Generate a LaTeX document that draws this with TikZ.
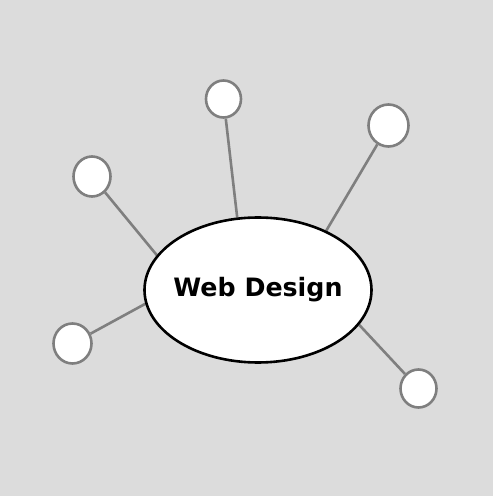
\documentclass[tikz,border=0pt]{standalone}
\usepackage{fontspec}
\setmainfont{DejaVu Sans}
\usetikzlibrary{shapes.geometric,backgrounds}
\definecolor{bg}{HTML}{DCDCDC}
\definecolor{linegray}{HTML}{7F7F7F}
\tikzset{
  leaf/.style={ellipse, draw=linegray, line width=2.6pt, fill=white, inner sep=0pt},
  hub/.style={ellipse, draw=black, line width=2.6pt, fill=white, inner xsep=-15pt, inner ysep=0pt,
    minimum width=227pt, minimum height=145pt, font=\fontsize{25.3}{30}\selectfont\bfseries},
  link/.style={draw=linegray, line width=2.6pt}
}
\begin{document}
\begin{tikzpicture}[x=1pt,y=1pt]
\useasboundingbox (0,0) rectangle (493,496);
\node[hub] (e) at (258,206) {Web Design};
\node[leaf, minimum width=35pt, minimum height=37pt] (c1) at (223.5,397) {};
\node[leaf, minimum width=40pt, minimum height=42pt] (c2) at (388.5,370.5) {};
\node[leaf, minimum width=37pt, minimum height=40pt] (c3) at (92,319.5) {};
\node[leaf, minimum width=38pt, minimum height=40pt] (c4) at (72.5,152.5) {};
\node[leaf, minimum width=36pt, minimum height=38pt] (c5) at (418.5,107.5) {};
\begin{scope}[on background layer]
  \fill[bg] (0,0) rectangle (493,496);
  \draw[link] (c1) -- (e.106);
  \draw[link] (c2) -- (e.41);
  \draw[link] (c3) -- (e.161);
  \draw[link] (c4) -- (e.187.6);
  \draw[link] (c5) -- (e.-19.8);
\end{scope}
\end{tikzpicture}
\end{document}
